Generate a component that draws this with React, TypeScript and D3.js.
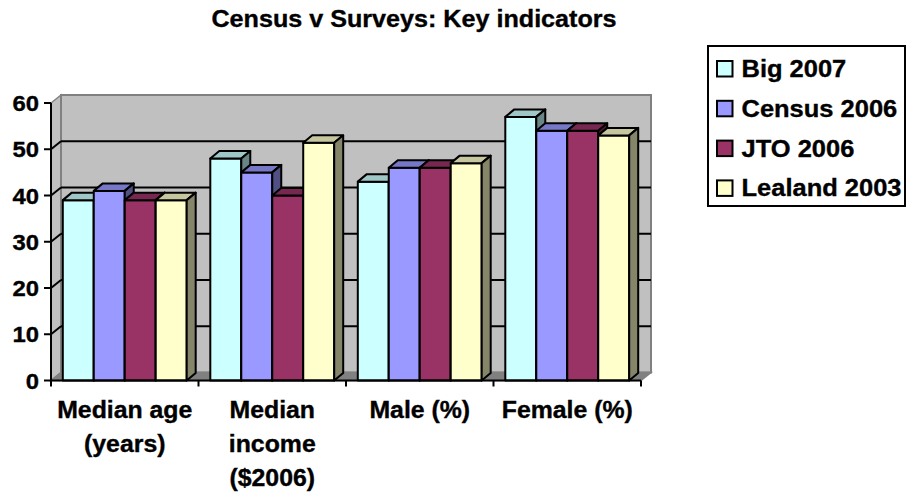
import React from "react";
import * as d3 from "d3";

const title = "Census v Surveys: Key indicators";
const categories = ["Median age\n(years)", "Median\nincome\n($2006)", "Male (%)", "Female (%)"];
const seriesNames = ["Big 2007", "Census 2006", "JTO 2006", "Lealand 2003"];
const big2007 = [39, 48, 43, 57];
const census2006 = [41, 45, 46, 54];
const jto2006 = [39, 40, 46, 54];
const lealand2003 = [39, 51.4, 47, 53];
const yTicks = [0, 10, 20, 30, 40, 50, 60];
const seriesColors = ["#CCFFFF", "#9999FF", "#993366", "#FFFFCC"];

const seriesValues = [big2007, census2006, jto2006, lealand2003];

const W = 907;
const H = 495;
const FONT = "'Liberation Sans', Arial, sans-serif";

function shade(c: string, k: number) {
  const col = d3.rgb(c);
  return d3.rgb(col.r * k, col.g * k, col.b * k).formatHex();
}

function SText({ x, y, sx, size, anchor, children }: any) {
  return (
    <text
      transform={`translate(${x},${y}) scale(${sx},1)`}
      textAnchor={anchor}
      fontFamily={FONT}
      fontWeight="bold"
      fontSize={size}
      fill="#000"
      stroke="#000"
      strokeWidth={0.35}
    >
      {children}
    </text>
  );
}

export default function App() {
  const x = d3.scaleBand<string>().domain(categories).range([51, 641]).padding(0);
  const bw = x.bandwidth();
  const xi = d3
    .scaleBand<string>()
    .domain(seriesNames)
    .range([bw * 0.08, bw * 0.08 + bw * 0.84])
    .padding(0);
  const y = d3.scaleLinear().domain([0, 60]).range([380.5, 103]);

  const wdx = 10, wdy = -8; // wall depth
  const bdx = 9, bdy = -7.5; // bar depth
  const x0 = x.range()[0];
  const x1 = x.range()[1];
  const y0 = y(0);
  const yTop = y(60);

  const bars: JSX.Element[] = [];
  categories.forEach((cat, ci) => {
    seriesNames.forEach((s, si) => {
      const v = seriesValues[si][ci];
      const bx = (x(cat) as number) + (xi(s) as number);
      const w = xi.bandwidth();
      const yt = y(v);
      const col = seriesColors[si];
      bars.push(
        <g key={`${ci}-${si}`} stroke="#000" strokeWidth={2} strokeLinejoin="round">
          <rect x={bx} y={yt} width={w} height={y0 - yt} fill={col} />
          <polygon
            points={`${bx},${yt} ${bx + w},${yt} ${bx + w + bdx},${yt + bdy} ${bx + bdx},${yt + bdy}`}
            fill={shade(col, 0.78)}
          />
          <polygon
            points={`${bx + w},${yt} ${bx + w + bdx},${yt + bdy} ${bx + w + bdx},${y0 + bdy} ${bx + w},${y0}`}
            fill={shade(col, 0.52)}
          />
        </g>
      );
    });
  });

  const catTicks = [...categories.map((c) => x(c) as number), x1];

  return (
    <svg
      width={W}
      height={H}
      style={{ position: "absolute", left: 0, top: 0, background: "#fff" }}
    >
      <rect x={0} y={0} width={W} height={H} fill="#fff" />
      {/* Title */}
      <SText x={414} y={27} sx={1.07} size={23.5} anchor="middle">
        {title}
      </SText>

      {/* Left wall */}
      <polygon
        points={`${x0},${y0} ${x0},${yTop} ${x0 + wdx},${yTop + wdy} ${x0 + wdx},${y0 + wdy}`}
        fill="#C0C0C0"
        stroke="#808080"
        strokeWidth={1.5}
      />
      {/* Back wall */}
      <rect
        x={x0 + wdx}
        y={yTop + wdy}
        width={x1 - x0}
        height={y0 - yTop}
        fill="#C0C0C0"
        stroke="#808080"
        strokeWidth={2}
      />
      {/* Floor */}
      <polygon
        points={`${x0},${y0} ${x1},${y0} ${x1 + wdx},${y0 + wdy} ${x0 + wdx},${y0 + wdy}`}
        fill="#808080"
        stroke="#808080"
        strokeWidth={1.5}
      />
      {/* Gridlines */}
      {yTicks
        .filter((t) => t > 0 && t < 60)
        .map((t) => (
          <g key={`g${t}`} stroke="#000" strokeWidth={2}>
            <line x1={x0 + wdx} x2={x1 + wdx} y1={y(t) + wdy} y2={y(t) + wdy} />
            <line x1={x0} x2={x0 + wdx} y1={y(t)} y2={y(t) + wdy} />
          </g>
        ))}

      {/* Bars */}
      {bars}

      {/* Axes */}
      <line x1={x0} x2={x0} y1={yTop} y2={y0} stroke="#000" strokeWidth={2} />
      <line x1={x0} x2={x1} y1={y0} y2={y0} stroke="#000" strokeWidth={2} />
      {yTicks.map((t) => (
        <g key={`yt${t}`}>
          <line x1={x0 - 7} x2={x0} y1={y(t)} y2={y(t)} stroke="#000" strokeWidth={2} />
          <SText x={39} y={y(t) + 8} sx={1.06} size={22.5} anchor="end">
            {String(t)}
          </SText>
        </g>
      ))}
      {catTicks.map((cx, i) => (
        <line key={`xt${i}`} x1={cx} x2={cx} y1={y0} y2={y0 + 6} stroke="#000" strokeWidth={2} />
      ))}
      {categories.map((c) => {
        const cx = (x(c) as number) + bw / 2;
        return c.split("\n").map((line, li) => (
          <SText key={`${c}-${li}`} x={cx} y={418} sx={1.08} size={23} anchor="middle">
            <tspan y={li * 34}>{line}</tspan>
          </SText>
        ));
      })}

      {/* Legend */}
      <rect x={708} y={46} width={197} height={160} fill="#fff" stroke="#000" strokeWidth={2} />
      {seriesNames.map((s, i) => (
        <g key={`lg${s}`}>
          <rect
            x={717}
            y={61 + i * 39.8}
            width={15.5}
            height={15.5}
            fill={seriesColors[i]}
            stroke="#000"
            strokeWidth={2}
          />
          <SText x={741.5} y={77} sx={1.04} size={24.5} anchor="start">
            <tspan y={i * 39.8}>{s}</tspan>
          </SText>
        </g>
      ))}
    </svg>
  );
}
